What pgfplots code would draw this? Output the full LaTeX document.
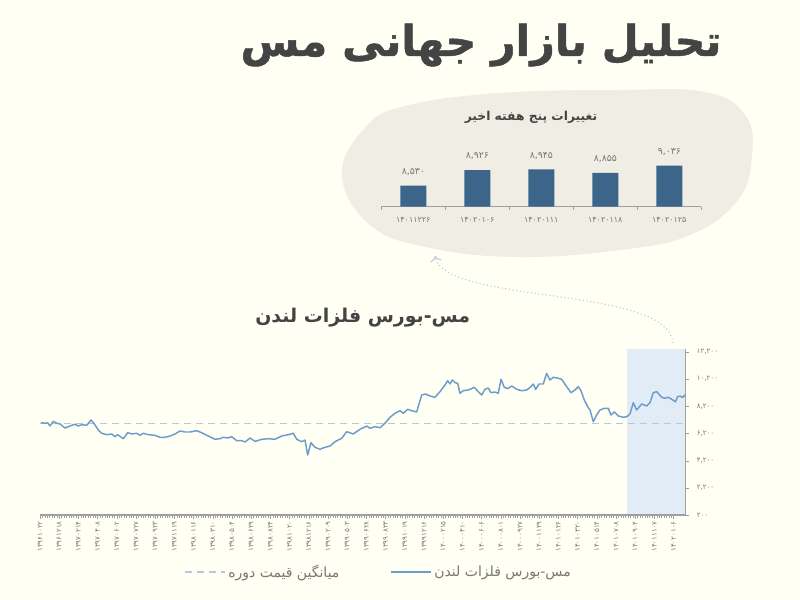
\documentclass[border=0pt]{standalone}
\usepackage{pgfplots}
\pgfplotsset{compat=1.18}
\usepackage{fontspec}
\usetikzlibrary{arrows.meta}
\newfontfamily\fa[Script=Arabic]{DejaVu Sans}
\newfontfamily\fab[Script=Arabic, FakeBold=1.2]{DejaVu Sans Bold}
\TeXXeTstate=1
\definecolor{bg}{RGB}{255,255,243}
\definecolor{blob}{RGB}{240,237,228}
\definecolor{barc}{RGB}{61,100,137}
\definecolor{linec}{RGB}{108,157,202}
\definecolor{shade}{RGB}{226,236,246}
\definecolor{avgc}{RGB}{184,200,218}
\definecolor{tgray}{RGB}{68,68,68}
\definecolor{lgray}{RGB}{120,120,120}
\begin{document}
\begin{tikzpicture}
\fill[bg] (0,0) rectangle (600pt,450pt);
\begin{scope}[x=0.75pt,y=-0.75pt,shift={(0,450pt)}]
\fill[blob] plot[smooth cycle, tension=0.7] coordinates {(342,175) (365,128) (405,106) (500,93) (620,90) (705,92) (745,115) (752,155) (738,200) (690,235) (620,250) (520,257) (430,248) (370,225)};
\node[font=\fab\fontsize{32}{38}\selectfont, text=tgray] at (481,45) {\beginR تحلیل بازار جهانی مس\endR};
\node[font=\fa\bfseries\fontsize{9.2}{11}\selectfont, text=tgray] at (531,117) {\beginR تغییرات پنج هفته اخیر\endR};
\draw[avgc, dotted, thick, -{To[length=4pt]}] (673,343) .. controls (668,285) and (445,305) .. (435,256);
\end{scope}

\begin{axis}[
 at={(30pt,63.75pt)}, anchor=south west, scale only axis,
 width=484.1pt, height=124.3pt,
 xmin=40, xmax=685.5, ymin=200, ymax=12400,
 axis on top,
 scaled y ticks=false,
 axis x line*=bottom, axis y line*=right,
 axis line style={lgray!70, line width=0.8pt},
 xtick={40,59.2,78.4,97.6,116.8,136,155.2,174.4,193.6,212.8,232,251.2,270.4,289.6,308.8,328,347.2,366.4,385.6,404.8,424,443.2,462.4,481.6,500.8,520,539.2,558.4,577.6,596.8,616,635.2,654.4,673.6},
 xticklabels={۱۳۹۶۱۰۲۲,۱۳۹۶۱۲۱۸,۱۳۹۷۰۲۱۴,۱۳۹۷۰۴۰۸,۱۳۹۷۰۶۰۲,۱۳۹۷۰۷۲۷,۱۳۹۷۰۹۲۳,۱۳۹۷۱۱۱۹,۱۳۹۸۰۱۱۶,۱۳۹۸۰۳۱۰,۱۳۹۸۰۵۰۴,۱۳۹۸۰۶۲۹,۱۳۹۸۰۸۲۴,۱۳۹۸۱۰۲۰,۱۳۹۸۱۲۱۶,۱۳۹۹۰۲۰۹,۱۳۹۹۰۵۰۳,۱۳۹۹۰۶۲۸,۱۳۹۹۰۸۲۳,۱۳۹۹۱۰۱۹,۱۳۹۹۱۲۱۶,۱۴۰۰۰۲۱۵,۱۴۰۰۰۴۱۰,۱۴۰۰۰۶۰۶,۱۴۰۰۰۸۰۱,۱۴۰۰۰۹۲۷,۱۴۰۰۱۱۲۹,۱۴۰۱۰۱۲۶,۱۴۰۱۰۳۲۰,۱۴۰۱۰۵۱۴,۱۴۰۱۰۷۰۸,۱۴۰۱۰۹۰۴,۱۴۰۱۱۱۰۷,۱۴۰۲۰۱۰۶},
 minor x tick num=7,
 tick align=outside, major tick length=3pt, minor tick length=2pt,
 tick style={lgray!70},
 xticklabel style={font=\fa\fontsize{5.3}{6}\selectfont, rotate=90, anchor=east, text=lgray, inner sep=1.5pt},
 ytick={200,2200,4200,6200,8200,10200,12200},
 yticklabels={۲۰۰,{۲,۲۰۰},{۴,۲۰۰},{۶,۲۰۰},{۸,۲۰۰},{۱۰,۲۰۰},{۱۲,۲۰۰}},
 yticklabel style={font=\fa\fontsize{5.3}{6}\selectfont, text=lgray, xshift=2pt},
 title={\beginR مس-بورس فلزات لندن\endR},
 title style={font=\fa\bfseries\fontsize{14.2}{16}\selectfont, text=tgray, at={(0.5,1.14)}, anchor=center},
 legend columns=2,
 legend image code/.code={\draw[#1] (0pt,0pt) -- (30pt,0pt);},
 legend style={at={(0.525,-0.344)}, anchor=center, draw=none, fill=none, font=\fa\fontsize{10.5}{12}\selectfont, text=lgray, /tikz/every even column/.append style={column sep=36pt}},
]
\addplot[fill=shade, draw=none, forget plot] coordinates {(627.3,200) (685.5,200) (685.5,12400) (627.3,12400)} -- cycle;
\addplot[avgc, dash pattern=on 5pt off 4pt, line width=1pt] coordinates {(40,6950) (685.5,6950)};
\addlegendentry{\beginR میانگین قیمت دوره\endR}
\addplot[linec, line width=1.1pt, line join=round] coordinates {
(41,6995) (45,6951) (47.7,6995) (50,6752) (53.3,7098) (56.7,6951) (60,6899) (65,6605) (68.3,6700) (71.7,6803) (75,6877) (78.3,6752) (81.7,6848) (86.7,6803) (91,7194) (94.3,6899) (98.3,6457) (101.7,6215) (106.7,6111) (111.7,6163) (115,5964) (117.7,6111) (123.3,5817) (127.7,6259) (131.7,6163) (136.7,6215) (140,6067) (143.3,6215) (148.3,6111) (155,6067) (160,5920) (165,5920) (170,6016) (175,6163) (180,6384) (185,6310) (190,6310) (196.7,6406) (201.7,6259) (208.3,6016) (215,5773) (220,5817) (223.3,5920) (227.7,5868) (231.7,5964) (236.7,5670) (241.7,5670) (245,5574) (250,5868) (255,5620) (261.7,5773) (268.3,5817) (275,5773) (281.7,6016) (288.3,6111) (293.3,6215) (296.7,5773) (301.7,5596) (305,5721) (307.7,4617) (311,5522) (315,5184) (320,5037) (325,5184) (330,5280) (335,5596) (341.7,5846) (346.7,6332) (353.3,6163) (360,6509) (366.7,6752) (370,6583) (375,6700) (380,6627) (385,6951) (390,7392) (395,7687) (400,7878) (403.3,7687) (407.7,7981) (411.7,7878) (416.7,7783) (421.7,9034) (425.7,9108) (430,8961) (435,8865) (440,9277) (445,9770) (447.7,10087) (450,9844) (452.3,10138) (455,9940) (457.7,9896) (460,9159) (463.3,9351) (468.3,9402) (470,9454) (474.3,9601) (478.3,9277) (481.7,9034) (485,9454) (488.3,9550) (491,9203) (495,9255) (498.3,9159) (501,10190) (504.3,9601) (507.7,9498) (511.7,9697) (516.7,9454) (521.7,9351) (526.7,9402) (531,9645) (533.3,9844) (535.7,9454) (539,9844) (543.3,9844) (546.7,10632) (550,10138) (553.3,10337) (558.3,10264) (561.7,10190) (566.7,9645) (571,9203) (575,9402) (578.3,9645) (581,9351) (584.3,8666) (587.7,8173) (590,7930) (593.3,7068) (596.7,7562) (600,7930) (604.3,8055) (608.3,8055) (611,7562) (614.3,7783) (618.3,7488) (623.3,7392) (626.7,7437) (630,7635) (633.3,8467) (636.7,7930) (641.7,8372) (646.7,8225) (650,8467) (653.3,9203) (656.7,9277) (661.7,8865) (665,8791) (668.3,8865) (671.7,8718) (675.4,8530) (677.8,8926) (680.2,8945) (682.6,8855) (685,9036)
};
\addlegendentry{\beginR مس-بورس فلزات لندن\endR}
\end{axis}

\begin{axis}[
 at={(286pt,295pt)}, anchor=south west, scale only axis,
 width=240pt, height=47.5pt,
 xmin=-0.5, xmax=4.5, ymin=8000, ymax=9600,
 axis x line*=bottom, axis y line=none,
 axis line style={lgray!70, line width=0.8pt},
 ybar, bar width=19.5pt,
 xtick={0,1,2,3,4},
 xticklabels={۱۴۰۱۱۲۲۶,۱۴۰۲۰۱۰۶,۱۴۰۲۰۱۱۱,۱۴۰۲۰۱۱۸,۱۴۰۲۰۱۲۵},
 major x tick style={draw=none},
 minor xtick={-0.5,0.5,1.5,2.5,3.5,4.5},
 tick align=outside, minor tick length=2.5pt,
 minor x tick style={lgray!70},
 xticklabel style={font=\fa\fontsize{6}{7}\selectfont, text=lgray},
 nodes near coords, point meta=explicit symbolic,
 every node near coord/.append style={font=\fa\fontsize{7}{8}\selectfont, text=lgray, yshift=4pt},
]
\addplot[fill=barc, draw=none] coordinates {(0,8530) [۸,۵۳۰] (1,8926) [۸,۹۲۶] (2,8945) [۸,۹۴۵] (3,8855) [۸,۸۵۵] (4,9036) [۹,۰۳۶]};
\end{axis}
\pgfresetboundingbox
\useasboundingbox (0,0) rectangle (600pt,450pt);
\end{tikzpicture}
\end{document}
